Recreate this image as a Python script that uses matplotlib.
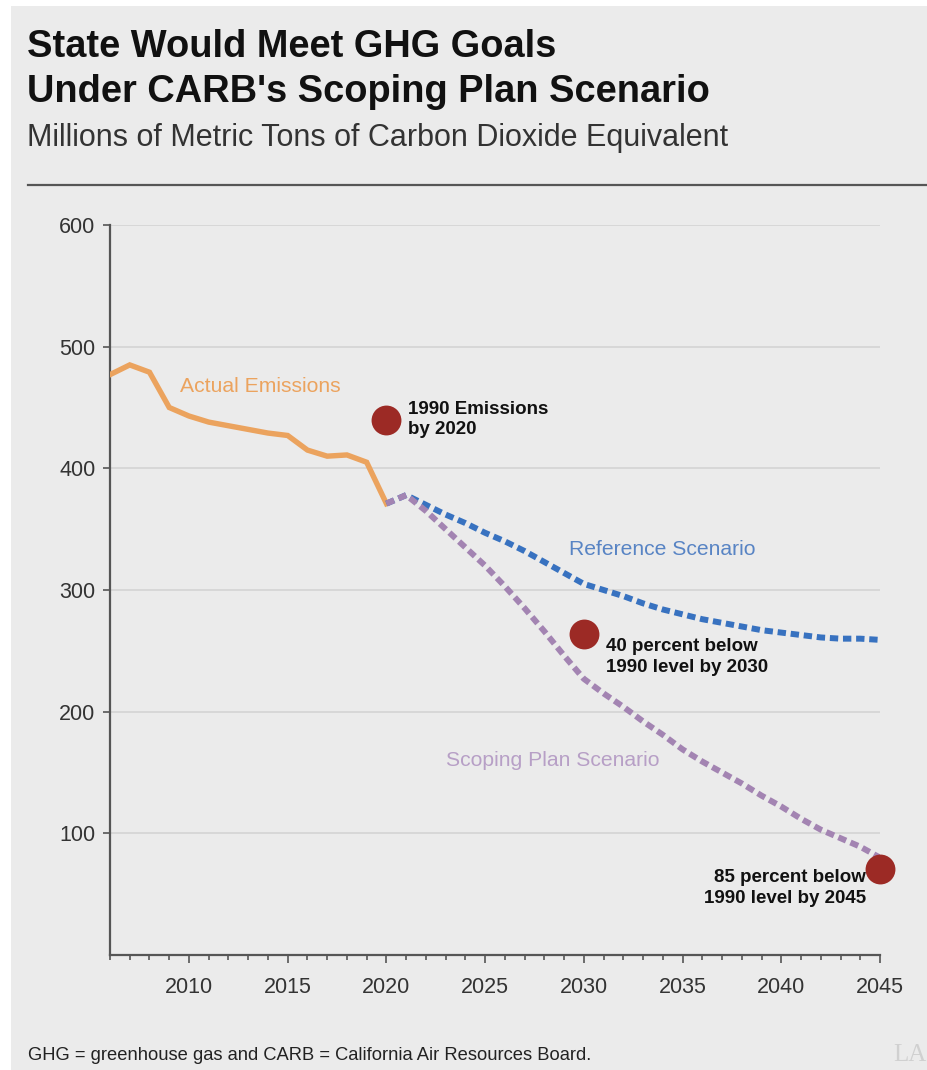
import matplotlib
matplotlib.use('Agg')
import matplotlib.pyplot as plt
import matplotlib.ticker as mtick
from matplotlib.patches import Rectangle
from matplotlib.lines import Line2D

plt.rcParams['font.family'] = ['Liberation Sans', 'DejaVu Sans']

# data
actual_years = list(range(2006, 2021))
actual = [477, 485, 479, 450, 443, 438, 435, 432, 429, 427, 415, 410, 411, 405, 371]

scenario_years = list(range(2020, 2046))
reference = [371, 378, 370, 362, 355, 347, 340, 332, 323, 314, 305, 300, 295,
             289, 284, 280, 276, 273, 270, 267, 265, 263, 261, 260, 260, 259]
scoping = [371, 378, 365, 350, 335, 320, 303, 285, 266, 246, 227, 215, 204,
           192, 181, 169, 159, 150, 141, 131, 122, 112, 103, 96, 89, 80]

goal_years = [2020, 2030, 2045]
goal_values = [440, 264, 71]
goal_labels = ['1990 Emissions\nby 2020',
               '40 percent below\n1990 level by 2030',
               '85 percent below\n1990 level by 2045']

y_ticks = [100, 200, 300, 400, 500, 600]
x_major = list(range(2010, 2046, 5))

W, H = 927, 1070
BG = '#ebebeb'
ORANGE = '#eba35e'
BLUE = '#3872c0'
PURPLE = '#a384b2'
RED = '#9c2a25'
SPINE = '#555555'


def fx(px):
    return px / W


def fy(py):
    return 1 - py / H


fig = plt.figure(figsize=(W / 100, H / 100), dpi=100, facecolor='white')
fig.add_artist(Rectangle((fx(11), 0), 1 - fx(11), fy(6), transform=fig.transFigure,
                         facecolor=BG, edgecolor='none', zorder=-10))

# titles
fig.text(fx(27), fy(57), 'State Would Meet GHG Goals', fontsize=27.4,
         fontweight='bold', color='#111111', va='baseline')
fig.text(fx(27), fy(102), "Under CARB's Scoping Plan Scenario", fontsize=27.4,
         fontweight='bold', color='#111111', va='baseline')
fig.text(fx(27), fy(146), 'Millions of Metric Tons of Carbon Dioxide Equivalent',
         fontsize=22, color='#333333', va='baseline')
fig.add_artist(Line2D([fx(28), 1], [fy(185), fy(185)], transform=fig.transFigure,
                      color=SPINE, linewidth=1.6))

ax = fig.add_axes([fx(110), fy(955), fx(880) - fx(110), fy(225) - fy(955)])
ax.set_facecolor('none')
ax.set_xlim(2006, 2045)
ax.set_ylim(0, 600)

ax.grid(axis='y', color='#d3d3d3', linewidth=1.2, zorder=0)
ax.set_axisbelow(True)

ax.plot(actual_years, actual, color=ORANGE, linewidth=3.9,
        solid_joinstyle='miter', zorder=3)
ax.plot(scenario_years, reference, color=BLUE, linewidth=4.3,
        linestyle=(0, (1.4, 0.8)), zorder=3)
ax.plot(scenario_years, scoping, color=PURPLE, linewidth=4.3,
        linestyle=(0, (1.4, 0.8)), zorder=4)
ax.plot(goal_years, goal_values, 'o', color=RED, markersize=21.5,
        markeredgewidth=0, clip_on=False, zorder=5)

ax.text(2009.55, 467, 'Actual Emissions', color=ORANGE, fontsize=15.2, va='center')
ax.text(2029.25, 333, 'Reference Scenario', color='#5884c4', fontsize=15.2, va='center')
ax.text(2023.0, 160, 'Scoping Plan Scenario', color='#b79fc6', fontsize=15.2, va='center')

note_pos = [(2021.1, 440, 'left'), (2031.1, 245, 'left'), (2044.3, 55, 'right')]
for (x, y, ha), label in zip(note_pos, goal_labels):
    ax.text(x, y, label, fontsize=13.5, fontweight='bold', color='#111111',
            ha=ha, va='center', linespacing=1.25)

for side in ['top', 'right']:
    ax.spines[side].set_visible(False)
for side in ['left', 'bottom']:
    ax.spines[side].set_color(SPINE)
    ax.spines[side].set_linewidth(1.6)

ax.set_yticks(y_ticks)
ax.set_xticks(x_major)
ax.xaxis.set_minor_locator(mtick.MultipleLocator(1))
ax.tick_params(axis='y', length=5, width=1.2, color=SPINE, pad=5.5,
               labelsize=15.5, labelcolor='#333333')
ax.tick_params(axis='x', which='major', length=6, width=1.2, color=SPINE, pad=10,
               labelsize=15.5, labelcolor='#333333')
ax.tick_params(axis='x', which='minor', length=3.5, width=1.2, color=SPINE)

fig.text(fx(28), fy(1055), 'GHG = greenhouse gas and CARB = California Air Resources Board.',
         fontsize=13.2, color='#222222', va='center')
fig.text(fx(926), fy(1055), 'LA', family='Liberation Serif', fontsize=18,
         color='#d0d0d0', va='center', ha='right')

fig.savefig('out.png', dpi=100, facecolor='white')
